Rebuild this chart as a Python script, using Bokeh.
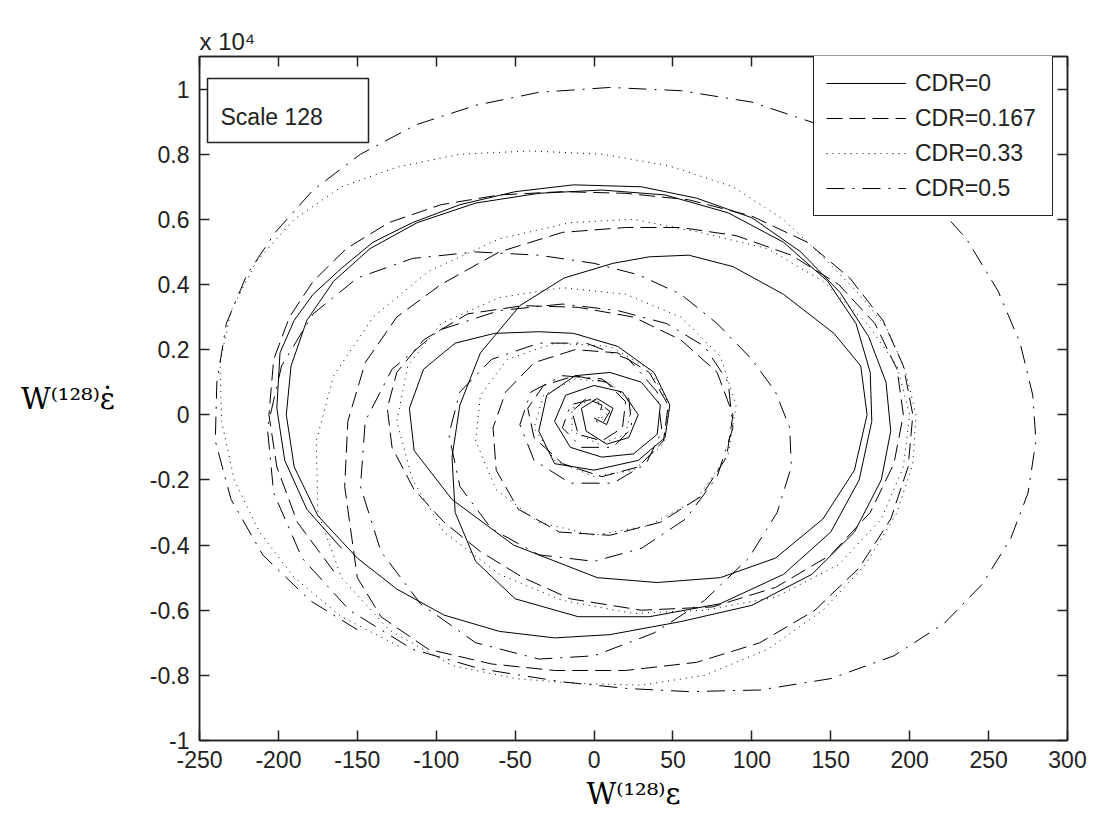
from bokeh.plotting import figure
from bokeh.models import Range1d, FixedTicker, Label, Legend, LegendItem, LinearAxis, BoxAnnotation, Title
from bokeh.embed import file_html
from bokeh.resources import INLINE

# ---------------- data (x: W(128) eps, y: W(128) eps-dot in units of 1e4) ----------
cdr0_x = [-160, -182, -196, -201, -199, -190, -178, -160, -140, -115, -85, -50, -13, 30, 65, 100, 131, 156, 174, 185,
          188, 182, 165, 138, 100, 55, 10, -25, -60, -95, -125, -150, -175, -190, -195, -192, -182, -165, -142, -112,
          -75, -35, 5, 45, 85, 120, 148, 166, 175, 176, 168, 150, 120, 80, 35, -10, -50, -75, -88, -90,
          -85, -72, -47, -19, 12, 35, 60, 88, 120, 152, 169, 173, 165, 145, 115, 80, 40, 2, -51, -90, -114,
          -117, -108, -88, -63, -35, -13, 15, 38, 48, 45, 28, 0, -25, -35,
          -30, -12, 10, 30, 42, 40, 25, 5, -15, -25, -18, 0, 18, 28, 22, 8, -5, -8, 2, 12, 8, 0]
cdr0_y = [-0.41, -0.29, -0.14, 0.02, 0.19, 0.29, 0.37, 0.45, 0.53, 0.59, 0.645, 0.685, 0.706, 0.70, 0.665, 0.605, 0.50, 0.375, 0.24, 0.10,
          -0.05, -0.20, -0.36, -0.49, -0.585, -0.635, -0.675, -0.685, -0.665, -0.615, -0.535, -0.44, -0.31, -0.16, 0.00, 0.15, 0.29, 0.41, 0.51, 0.59,
          0.65, 0.68, 0.69, 0.675, 0.62, 0.53, 0.41, 0.28, 0.13, -0.02, -0.20, -0.36, -0.49, -0.58, -0.62, -0.62, -0.565, -0.45, -0.30, -0.13,
          0.03, 0.19, 0.335, 0.42, 0.465, 0.485, 0.49, 0.455, 0.37, 0.25, 0.15, 0.00, -0.17, -0.32, -0.44, -0.50, -0.515, -0.50, -0.40, -0.26, -0.11,
          0.02, 0.14, 0.22, 0.25, 0.255, 0.25, 0.21, 0.13, 0.03, -0.07, -0.14, -0.17, -0.15, -0.05,
          0.06, 0.12, 0.13, 0.10, 0.03, -0.06, -0.12, -0.13, -0.10, -0.02, 0.06, 0.09, 0.07, 0.00, -0.07, -0.09, -0.05, 0.02, 0.05, 0.02, -0.03, -0.01]

cdr167_x = [-165, -188, -201, -206, -203, -193, -178, -157, -130, -97, -60, -20, 20, 60, 100, 135, 162, 183, 196, 202,
            199, 188, 168, 140, 105, 65, 20, -25, -65, -105, -135, -150,
            -158, -156, -145, -125, -97, -60, -20, 20, 55, 90, 125, 155, 178, 192, 196, 190, 175, 150, 115, 75, 30, -15, -45, -72, -95, -114, -128,
            -131, -125, -108, -80, -45, -10, 25, 55, 78, 88, 84, 68, 42, 10, -22, -48, -62, -64,
            -56, -38, -12, 15, 35, 47, 44, 28, 5, -20, -38, -42,
            -32, -12, 8, 20, 18, 5, -10, -14, -5, 5, 3]
cdr167_y = [-0.48, -0.33, -0.16, 0.00, 0.17, 0.30, 0.41, 0.51, 0.59, 0.645, 0.675, 0.685, 0.68, 0.66, 0.61, 0.53, 0.42, 0.29, 0.15, 0.00,
            -0.16, -0.32, -0.47, -0.60, -0.70, -0.76, -0.785, -0.785, -0.765, -0.72, -0.62, -0.50,
            -0.22, -0.02, 0.16, 0.30, 0.40, 0.50, 0.56, 0.575, 0.575, 0.55, 0.49, 0.40, 0.28, 0.14, 0.00, -0.15, -0.30, -0.43, -0.53, -0.59, -0.60, -0.565, -0.50, -0.42, -0.33, -0.23, -0.10,
            0.02, 0.13, 0.23, 0.31, 0.335, 0.33, 0.30, 0.23, 0.13, 0.00, -0.13, -0.25, -0.33, -0.37, -0.36, -0.29, -0.17, -0.04,
            0.07, 0.16, 0.20, 0.19, 0.13, 0.03, -0.08, -0.16, -0.19, -0.15, -0.07, 0.02,
            0.09, 0.12, 0.10, 0.04, -0.04, -0.08, -0.06, 0.01, 0.05, 0.03, -0.01]

cdr33_x = [-124, -160, -190, -212, -228, -236, -237, -230, -214, -190, -160, -125, -85, -40, 5, 47, 88, 120, 145, 168,
           185, 197, 204, 202, 192, 172, 145, 110, 70, 30, -10, -50, -90,
           -130, -160, -175, -176, -165, -140, -105, -60, -15, 25, 67, 110, 145, 173, 192, 200, 196, 182, 155, 115, 70, 25, -20, -60, -95, -115,
           -125, -118, -97, -60, -20, 20, 55, 80, 90, 85, 65, 35, 0, -35, -62, -75,
           -72, -55, -25, 10, 35, 48, 44, 25, 0, -25, -38,
           -32, -12, 10, 24, 20, 3, -14, -14, 0, 8, 0]
cdr33_y = [-0.71, -0.62, -0.50, -0.36, -0.20, -0.02, 0.16, 0.32, 0.47, 0.60, 0.70, 0.76, 0.80, 0.81, 0.80, 0.765, 0.70, 0.60, 0.485, 0.37,
           0.27, 0.14, 0.00, -0.15, -0.30, -0.46, -0.60, -0.72, -0.80, -0.83, -0.825, -0.81, -0.77,
           -0.66, -0.50, -0.30, -0.08, 0.12, 0.30, 0.44, 0.54, 0.59, 0.60, 0.56, 0.51, 0.41, 0.28, 0.15, 0.00, -0.16, -0.32, -0.46, -0.56, -0.60, -0.61, -0.57, -0.49, -0.36, -0.20,
           -0.02, 0.15, 0.28, 0.36, 0.39, 0.37, 0.30, 0.18, 0.03, -0.12, -0.26, -0.34, -0.37, -0.33, -0.23, -0.08,
           0.06, 0.17, 0.22, 0.21, 0.14, 0.03, -0.09, -0.17, -0.19, -0.14, -0.04,
           0.06, 0.11, 0.10, 0.03, -0.06, -0.09, -0.05, 0.02, 0.05, 0.00, -0.02]

cdr5_x = [-150, -180, -210, -230, -240, -239, -233, -220, -202, -178, -148, -113, -75, -35, 10, 55, 100, 140, 178, 210,
          236, 256, 270, 278, 280, 275, 264, 246, 222, 190, 150, 105, 60, 20, -20, -72, -115,
          -155, -185, -203, -207, -198, -178, -150, -115, -75, -35, 0, 28, 55, 78, 100, 115, 124, 125, 116, 98, 70, 38, 0, -35, -75, -110,
          -135, -148, -145, -128, -98, -60, -20, 15, 46, 70, 85, 88, 78, 58, 30, 0, -35, -65, -85, -92,
          -85, -65, -35, -5, 22, 40, 43, 33, 12, -15, -38, -47,
          -40, -20, 5, 22, 24, 12, -8, -20, -15, 0, 10, 5, -2]
cdr5_y = [-0.66, -0.57, -0.43, -0.26, -0.08, 0.10, 0.28, 0.43, 0.56, 0.69, 0.80, 0.89, 0.95, 0.99, 1.005, 0.995, 0.96, 0.895, 0.80, 0.68,
          0.54, 0.38, 0.22, 0.06, -0.08, -0.24, -0.38, -0.52, -0.64, -0.74, -0.81, -0.845, -0.85, -0.84, -0.82, -0.78, -0.72,
          -0.60, -0.44, -0.24, -0.04, 0.15, 0.31, 0.42, 0.48, 0.50, 0.49, 0.465, 0.43, 0.37, 0.28, 0.17, 0.07, -0.04, -0.16, -0.30, -0.44, -0.57, -0.67, -0.74, -0.75, -0.70, -0.58,
          -0.42, -0.22, -0.02, 0.14, 0.26, 0.32, 0.34, 0.32, 0.28, 0.21, 0.10, -0.04, -0.19, -0.32, -0.41, -0.45, -0.43, -0.35, -0.22, -0.06,
          0.07, 0.17, 0.22, 0.22, 0.17, 0.07, -0.05, -0.15, -0.21, -0.21, -0.14, -0.03,
          0.07, 0.12, 0.11, 0.05, -0.04, -0.10, -0.10, -0.04, 0.03, 0.05, 0.01, -0.03, -0.01]

legend_labels = ["CDR=0", "CDR=0.167", "CDR=0.33", "CDR=0.5"]
x_ticks = [-250, -200, -150, -100, -50, 0, 50, 100, 150, 200, 250, 300]
y_ticks = [-1.0, -0.8, -0.6, -0.4, -0.2, 0.0, 0.2, 0.4, 0.6, 0.8, 1.0]
y_tick_labels = ["-1", "-0.8", "-0.6", "-0.4", "-0.2", "0", "0.2", "0.4", "0.6", "0.8", "1"]
x_label = "W\u207d\u00b9\u00b2\u2078\u207e\u03b5"
y_label = "W\u207d\u00b9\u00b2\u2078\u207e\u03b5\u0307"
multiplier = "x 10\u2074"
box_text = "Scale 128"

# ---------------- figure ----------------
TICK_FONT = "Liberation Sans"
SERIF = "DejaVu Serif"
INK = "#222222"
p = figure(width=1094, height=824, x_range=Range1d(-250, 300), y_range=Range1d(-1.0, 1.1),
           output_backend="svg", toolbar_location=None,
           min_border_left=199, min_border_right=27, min_border_top=56, min_border_bottom=84,
           x_axis_location=None, y_axis_location=None)
p.grid.visible = False
p.outline_line_color = INK
p.outline_line_width = 1.5
p.background_fill_color = "white"
p.border_fill_color = "white"

def style_axis(ax, ticks, overrides, show_labels):
    ax.ticker = FixedTicker(ticks=ticks)
    ax.major_tick_in = 10
    ax.major_tick_out = 0
    ax.minor_tick_line_color = None
    ax.axis_line_color = INK
    ax.axis_line_width = 1.5
    ax.major_tick_line_color = INK
    ax.major_tick_line_width = 1.5
    ax.major_label_text_font = TICK_FONT
    ax.major_label_text_font_size = "23px"
    ax.major_label_text_color = INK
    ax.major_label_standoff = 10
    if show_labels:
        ax.major_label_overrides = overrides
    else:
        ax.major_label_overrides = {t: "" for t in ticks}
        ax.major_label_text_font_size = "1px"
        ax.major_label_standoff = 0

xo = {t: str(t) for t in x_ticks}
yo = {t: s for t, s in zip(y_ticks, y_tick_labels)}
bx = LinearAxis(axis_label=x_label, axis_label_text_font=SERIF, axis_label_text_font_size="29px",
                axis_label_text_font_style="normal", axis_label_text_color="black", axis_label_standoff=6)
style_axis(bx, x_ticks, xo, True)
p.add_layout(bx, "below")
ly = LinearAxis(axis_label=y_label, axis_label_text_font=SERIF, axis_label_text_font_size="29px",
                axis_label_text_font_style="normal", axis_label_text_color="black",
                axis_label_orientation="horizontal", axis_label_standoff=32)
style_axis(ly, y_ticks, yo, True)
p.add_layout(ly, "left")
tx = LinearAxis(); style_axis(tx, x_ticks, xo, False); p.add_layout(tx, "above")
ry = LinearAxis(); style_axis(ry, y_ticks, yo, False); p.add_layout(ry, "right")

p.add_layout(Title(text=multiplier, align="left", text_font=TICK_FONT, text_font_size="24px",
                   text_font_style="normal", text_color=INK, offset=0, standoff=4), "above")

r0 = p.line(cdr0_x, cdr0_y, line_color="black", line_width=1)
r1 = p.line(cdr167_x, cdr167_y, line_color="black", line_width=1, line_dash="16 7")
r2 = p.line(cdr33_x, cdr33_y, line_color="black", line_width=1, line_dash="1 5")
r3 = p.line(cdr5_x, cdr5_y, line_color="black", line_width=1, line_dash="18 8 2 8")

legend = Legend(items=[LegendItem(label=l, renderers=[r]) for l, r in zip(legend_labels, [r0, r1, r2, r3])],
                location=(614, 524), orientation="vertical",
                label_text_font=TICK_FONT, label_text_font_size="23px", label_text_color=INK,
                glyph_width=80, glyph_height=30, label_height=30, spacing=5, padding=12,
                label_standoff=9, label_width=125, margin=0,
                border_line_color=INK, border_line_width=1.5, border_line_alpha=1.0,
                background_fill_color="white", background_fill_alpha=1.0)
p.add_layout(legend, "center")

def dx(px):
    return -250 + (px - 199) * 550.0 / 868.0
def dy(py):
    return 1.1 - (py - 56) * 2.1 / 684.0

p.add_layout(BoxAnnotation(left=dx(207), right=dx(368), top=dy(78), bottom=dy(142),
                           fill_color="white", fill_alpha=1.0, line_color=INK, line_alpha=1.0,
                           line_width=1.5, level="overlay"))
p.add_layout(Label(x=dx(220), y=dy(116), text=box_text, text_font=TICK_FONT, text_font_size="23px",
                   text_color=INK, text_baseline="alphabetic", level="overlay"))

open("out.html", "w").write(file_html(p, INLINE))
